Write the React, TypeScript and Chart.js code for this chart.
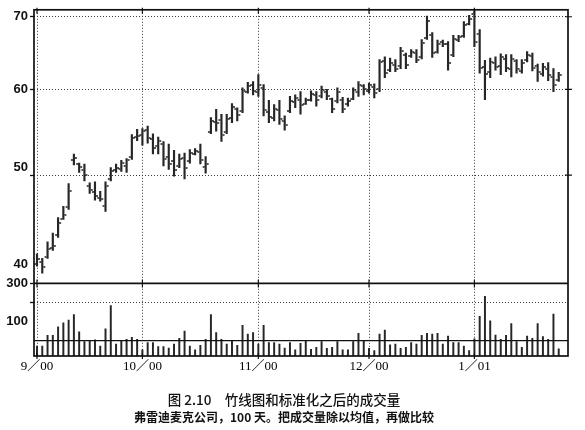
import { useEffect, useRef } from 'react';
import { Chart, registerables } from 'chart.js';

Chart.register(...registerables);

// ---- data ----
const monthTickDays = [0, 20, 42, 63, 83];
const monthTickLabels = ['9／00', '10／00', '11／00', '12／00', '1／01'];

const priceTicks = [40, 50, 60, 70];
const priceTickLabels = ['40', '50', '60', '70'];

const volumeTicks = [300, 200, 100];
const volumeTickLabels = ['300', '', '100'];
const volumeAverage = 0;

const highs = [
  42.3, 41.9, 43.4, 44.2, 45.7, 46.8, 49.1, 52.3, 51.3, 51.2,
  49.2, 49.3, 48.3, 49.3, 50.8, 51.2, 51.6, 51.8, 54.5, 55.1,
  55.2, 55.5, 54.6, 54.2, 53.7, 53.4, 52.7, 52.3, 52.4, 52.8,
  52.9, 53.4, 52.0, 56.5, 57.5, 56.9, 56.9, 58.2, 57.7, 60.2,
  60.9, 61.0, 61.9, 60.6, 58.6, 58.1, 58.6, 56.7, 59.1, 59.3,
  59.7, 58.9, 59.8, 59.7, 60.4, 60.0, 58.9, 60.2, 59.0, 58.9,
  60.2, 61.0, 60.6, 60.8, 60.7, 63.9, 64.3, 64.1, 63.9, 65.6,
  64.8, 65.3, 65.3, 66.7, 70.1, 67.7, 66.6, 66.6, 66.4, 67.3,
  67.3, 69.3, 70.2, 70.9, 68.1, 63.8, 64.1, 64.3, 64.7, 64.6,
  64.6, 63.9, 63.9, 65.0, 64.8, 63.3, 63.4, 63.5, 62.7, 62.2,
];

const lows = [
  41.2, 40.6, 41.9, 42.6, 43.8, 45.5, 46.5, 51.1, 50.3, 49.4,
  48.1, 47.4, 47.3, 46.3, 49.4, 50.3, 50.4, 50.3, 51.7, 53.8,
  53.3, 53.5, 52.3, 52.3, 51.0, 50.6, 49.9, 50.8, 49.6, 51.3,
  52.2, 51.2, 50.2, 54.6, 54.9, 53.7, 54.6, 55.9, 56.1, 57.1,
  59.5, 59.3, 59.1, 56.7, 55.9, 56.1, 55.7, 55.0, 57.1, 57.7,
  56.9, 58.1, 58.5, 57.9, 58.9, 58.7, 57.1, 58.3, 57.1, 57.9,
  58.7, 59.1, 59.3, 59.5, 58.9, 59.7, 61.5, 62.3, 62.3, 62.7,
  62.7, 64.2, 63.5, 64.0, 66.7, 64.2, 64.8, 65.7, 62.5, 64.3,
  66.4, 67.0, 68.8, 65.7, 62.1, 58.7, 61.5, 62.5, 61.9, 62.3,
  61.6, 62.1, 62.1, 63.6, 62.4, 61.0, 61.7, 61.1, 59.7, 61.0,
];

const opens = [
  41.4, 41.6, 42.0, 42.8, 44.0, 45.6, 46.7, 51.6, 51.2, 50.6,
  48.9, 48.2, 47.6, 46.8, 49.6, 50.5, 50.7, 51.0, 52.0, 54.2,
  54.5, 55.0, 54.0, 53.2, 53.4, 52.0, 51.5, 51.0, 51.9, 51.5,
  52.3, 52.5, 50.9, 54.8, 56.0, 56.2, 54.8, 56.4, 57.5, 57.3,
  59.7, 60.5, 59.6, 60.2, 57.2, 56.5, 57.4, 56.1, 57.3, 58.4,
  58.7, 58.2, 58.7, 59.3, 59.1, 59.7, 58.8, 58.5, 58.7, 58.1,
  58.8, 59.6, 60.4, 59.8, 60.3, 60.0, 63.7, 62.5, 63.2, 63.0,
  64.5, 64.4, 64.8, 64.3, 66.9, 67.4, 65.0, 66.3, 66.1, 64.5,
  66.6, 67.2, 69.0, 70.4, 67.5, 62.9, 62.2, 63.4, 63.0, 64.0,
  62.7, 63.7, 62.4, 63.8, 64.4, 63.0, 62.0, 62.7, 61.6, 61.2,
];

const closes = [
  41.8, 41.1, 42.7, 43.0, 45.2, 45.9, 48.3, 51.9, 50.9, 50.0,
  48.4, 47.8, 47.5, 48.9, 50.4, 50.8, 51.3, 51.6, 54.1, 54.3,
  54.9, 54.1, 53.0, 53.8, 51.7, 51.2, 50.6, 51.7, 50.8, 52.4,
  52.6, 51.6, 51.2, 56.1, 55.8, 54.5, 56.3, 57.8, 56.8, 59.8,
  60.4, 59.8, 60.6, 57.4, 56.6, 57.6, 56.3, 55.6, 58.5, 58.9,
  58.0, 58.6, 59.4, 58.7, 59.9, 59.2, 57.6, 59.6, 57.5, 58.5,
  59.9, 60.6, 60.0, 60.5, 59.5, 63.6, 62.1, 63.5, 62.7, 65.1,
  63.2, 65.0, 63.9, 66.2, 69.4, 64.8, 66.1, 66.0, 63.4, 66.8,
  67.0, 68.8, 69.7, 66.3, 62.8, 62.0, 63.6, 62.9, 64.2, 62.8,
  64.0, 62.6, 63.5, 64.6, 62.8, 62.2, 62.9, 61.8, 60.6, 61.8,
];

// normalised volume, relative to its average (average line at 0)
const volumes = [
  -28, -28, 28, 28, 73, 94, 108, 137, 47, -5,
  0, 4, -28, 62, 184, -17, 0, 7, 18, 7,
  -48, -10, -10, -31, -31, -38, -17, 12, 50, -28,
  -48, -24, 7, 137, 42, 7, -17, 0, -24, 80,
  35, 42, -17, 80, -10, -10, -17, -38, -10, -48,
  -14, 0, -45, -34, -5, -40, -34, -5, -48, -48,
  -5, 38, 0, -40, -52, 35, 56, -22, -17, -40,
  -34, -10, -17, 28, 38, 35, 38, -17, 24, -10,
  -10, -28, -52, 10, 128, 232, 104, 30, 7, 28,
  90, -5, -34, 24, 12, 90, 21, 7, 139, -42,
];

const titleText = '图 2.10　竹线图和标准化之后的成交量';
const subtitleText = '弗雷迪麦克公司，100 天。把成交量除以均值，再做比较';

// ---- scale limits ----
const X_MIN = -0.57;
const X_MAX = 100.76;
const PRICE_MIN = 39.73;
const PRICE_MAX = 71.04;
const VOL_MIN = -80;
const VOL_MAX = 300;

const SANS = '"Liberation Sans", Arial, sans-serif';
const SERIF = '"Liberation Serif", "Noto Sans CJK SC", serif';
const CJK = '"Noto Sans CJK SC", sans-serif';
const INK = '#262626';
const GRID = '#3a3a3a';

function tickImage(side: 'left' | 'right') {
  const c = document.createElement('canvas');
  c.width = 8;
  c.height = 2;
  const g = c.getContext('2d');
  if (g) {
    g.fillStyle = 'rgba(30,30,30,0.75)';
    g.fillRect(side === 'left' ? 1 : 5, 0, 2, 2);
  }
  return c;
}

const framePlugin = {
  id: 'panelFrame',
  afterDatasetsDraw(chart: any) {
    const { ctx, chartArea: a, scales } = chart;
    const xs = scales.x;
    const yp = scales.y;
    const yv = scales.yv;
    ctx.save();
    ctx.strokeStyle = '#111';
    ctx.lineWidth = 1.7;
    ctx.strokeRect(a.left, a.top, a.right - a.left, a.bottom - a.top);
    ctx.beginPath();
    ctx.moveTo(a.left, yv.top);
    ctx.lineTo(a.right, yv.top);
    ctx.stroke();
    ctx.lineWidth = 1.3;
    const ay = yv.getPixelForValue(volumeAverage);
    ctx.beginPath();
    ctx.moveTo(a.left, ay);
    ctx.lineTo(a.right, ay);
    ctx.stroke();
    ctx.lineWidth = 1.2;
    ctx.beginPath();
    for (const t of xs.ticks) {
      const px = xs.getPixelForValue(t.value);
      ctx.moveTo(px, a.top - 2);
      ctx.lineTo(px, a.top + 4);
      ctx.moveTo(px, yv.top - 4);
      ctx.lineTo(px, yv.top + 4);
      ctx.moveTo(px, a.bottom - 3);
      ctx.lineTo(px, a.bottom + 3);
    }
    for (const t of yp.ticks) {
      if (t.value === priceTicks[0]) continue;
      const py = yp.getPixelForValue(t.value);
      ctx.moveTo(a.right - 3, py);
      ctx.lineTo(a.right + 4, py);
    }
    ctx.stroke();
    ctx.restore();
  },
};

export default function App() {
  const ref = useRef<HTMLCanvasElement | null>(null);

  useEffect(() => {
    if (!ref.current) return;
    const leftTick = tickImage('left');
    const rightTick = tickImage('right');

    const chart = new Chart(ref.current, {
      type: 'bar',
      data: {
        datasets: [
          {
            type: 'bar',
            label: 'range',
            data: highs.map((h, i) => ({ x: i, y: [lows[i], h] })),
            yAxisID: 'y',
            backgroundColor: INK,
            borderWidth: 0,
            barThickness: 1.5,
            grouped: false,
          } as any,
          {
            type: 'line',
            label: 'open',
            data: opens.map((v, i) => ({ x: i, y: v })),
            yAxisID: 'y',
            showLine: false,
            pointStyle: leftTick,
            pointRadius: 4,
          } as any,
          {
            type: 'line',
            label: 'close',
            data: closes.map((v, i) => ({ x: i, y: v })),
            yAxisID: 'y',
            showLine: false,
            pointStyle: rightTick,
            pointRadius: 4,
          } as any,
          {
            type: 'bar',
            label: 'volume',
            data: volumes.map((v, i) => ({ x: i, y: v })),
            yAxisID: 'yv',
            base: VOL_MIN,
            backgroundColor: INK,
            borderWidth: 0,
            barThickness: 1.3,
            grouped: false,
          } as any,
        ],
      },
      options: {
        animation: false,
        responsive: false,
        events: [],
        layout: { padding: { left: 0, top: 8, right: 17, bottom: 0 } },
        plugins: {
          legend: { display: false },
          tooltip: { enabled: false },
          title: {
            display: true,
            text: titleText,
            position: 'bottom',
            weight: 1000,
            color: '#111',
            font: { family: CJK, size: 13.5, weight: '500', lineHeight: 1.2 },
            padding: { top: 14, bottom: 3 },
          },
          subtitle: {
            display: true,
            text: subtitleText,
            position: 'bottom',
            weight: 1500,
            color: '#111',
            font: { family: CJK, size: 12, weight: 'bold', lineHeight: 1.2 },
            padding: { top: 0, bottom: 5 },
          },
        } as any,
        scales: {
          x: {
            type: 'linear',
            min: X_MIN,
            max: X_MAX,
            offset: false,
            afterBuildTicks: (s: any) => {
              s.ticks = monthTickDays.map((v) => ({ value: v }));
            },
            afterFit: (s: any) => {
              s.height = 21.4;
            },
            ticks: {
              autoSkip: false,
              maxRotation: 0,
              padding: 3,
              color: '#000',
              font: { family: SERIF, size: 13 },
              callback: (v: any) => {
                const i = monthTickDays.indexOf(Number(v));
                return i >= 0 ? monthTickLabels[i] : '';
              },
            },
            grid: { offset: false, color: GRID, lineWidth: 1, drawTicks: false },
            border: { display: false, dash: [1, 2] },
          },
          y: {
            type: 'logarithmic',
            position: 'left',
            stack: 'panels',
            stackWeight: 275,
            weight: 1,
            min: PRICE_MIN,
            max: PRICE_MAX,
            afterBuildTicks: (s: any) => {
              s.ticks = priceTicks.map((v) => ({ value: v }));
            },
            afterFit: (s: any) => {
              s.width = 34;
            },
            ticks: {
              autoSkip: false,
              padding: 2,
              color: '#111',
              font: { family: SANS, size: 13, weight: 'bold' },
              callback: (v: any) => {
                const n = Number(v);
                const lbl = priceTickLabels[priceTicks.indexOf(n)] ?? '';
                if (n === priceTicks[0]) return [lbl, '', ''];
                if (n === priceTicks[1]) return [lbl, ''];
                return lbl;
              },
            },
            grid: {
              color: (c: any) => (c.tick && c.tick.value === priceTicks[0] ? 'rgba(0,0,0,0)' : GRID),
              tickColor: (c: any) => (c.tick && c.tick.value === priceTicks[0] ? 'rgba(0,0,0,0)' : '#111'),
              lineWidth: 1,
              tickLength: 4,
              tickWidth: 1.3,
            },
            border: { display: false, dash: [1, 2] },
          },
          yv: {
            type: 'linear',
            position: 'left',
            stack: 'panels',
            stackWeight: 73,
            weight: 0,
            min: VOL_MIN,
            max: VOL_MAX,
            afterBuildTicks: (s: any) => {
              s.ticks = volumeTicks.map((v) => ({ value: v }));
            },
            afterFit: (s: any) => {
              s.width = 34;
            },
            ticks: {
              autoSkip: false,
              padding: 2,
              color: '#111',
              font: { family: SANS, size: 13, weight: 'bold' },
              callback: (v: any) => {
                const i = volumeTicks.indexOf(Number(v));
                return i >= 0 ? volumeTickLabels[i] : '';
              },
            },
            grid: {
              color: (c: any) => (c.tick && c.tick.value === volumeTicks[1] ? GRID : 'rgba(0,0,0,0)'),
              tickColor: (c: any) => (c.tick && c.tick.value === volumeTicks[2] ? 'rgba(0,0,0,0)' : '#111'),
              lineWidth: 1,
              tickLength: 4,
              tickWidth: 1.3,
            },
            border: { display: false, dash: [1, 2] },
          },
        } as any,
      },
      plugins: [framePlugin],
    });

    return () => chart.destroy();
  }, []);

  return (
    <div style={{ position: 'absolute', left: 0, top: 0, width: 585, height: 430, background: '#fff' }}>
      <canvas ref={ref} width={585} height={430} style={{ display: 'block', width: 585, height: 430 }} />
    </div>
  );
}
